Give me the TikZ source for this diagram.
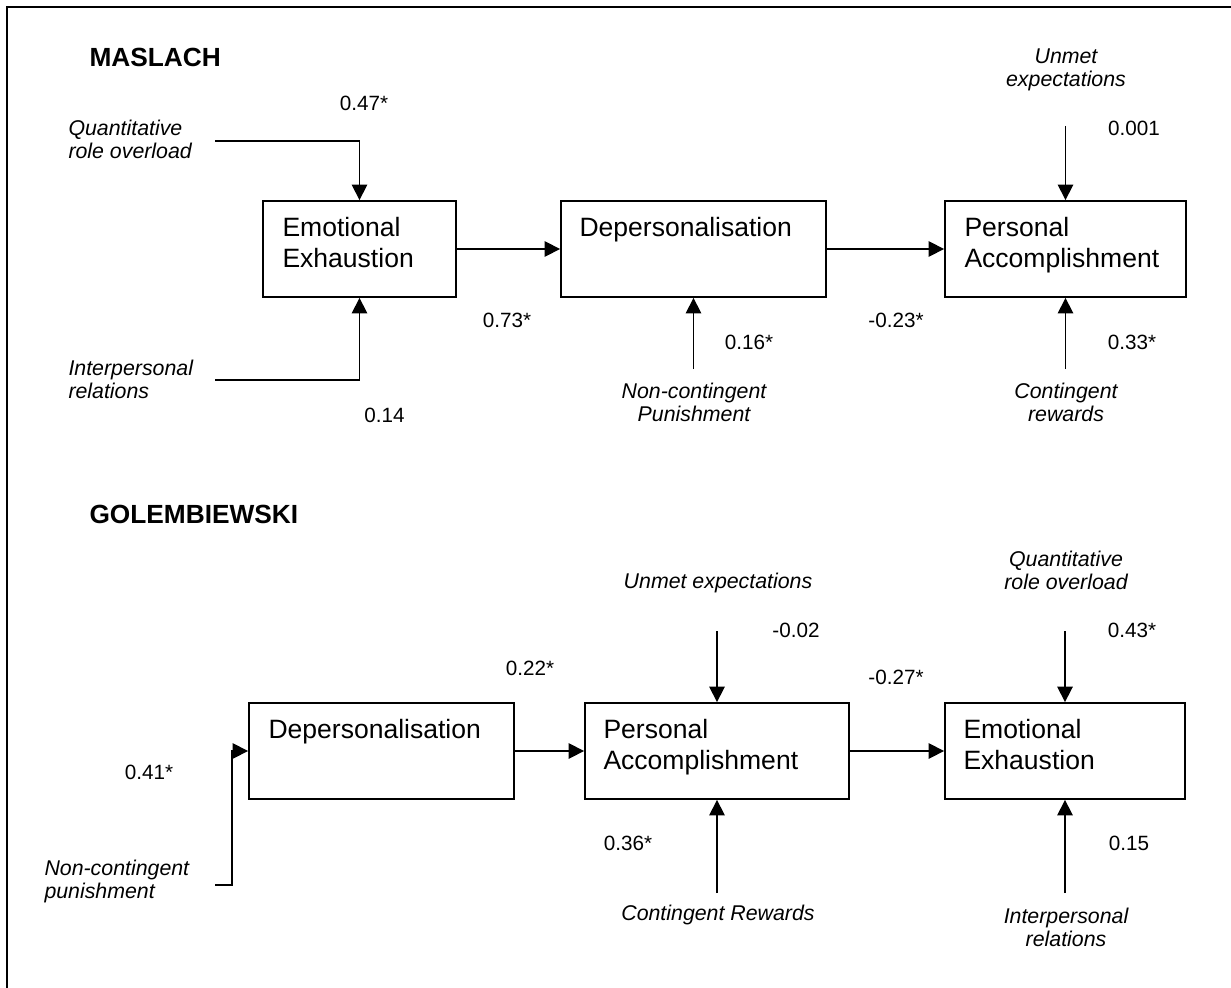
\documentclass[tikz,border=0pt]{standalone}
\usepackage{fontspec}
\setmainfont{Liberation Sans}
\usetikzlibrary{arrows.meta}

\tikzset{every picture/.style={line width=0.75pt}}
\tikzset{
  mbox/.style={draw, line width=1.4pt, inner sep=0pt, minimum height=72pt},
  boxtext/.style={anchor=north west, inner sep=0pt, align=left, font=\fontsize{19.9}{23.25}\selectfont},
  cause/.style={inner sep=0pt, font=\fontsize{16}{17.25}\selectfont\itshape},
  coef/.style={inner sep=0pt, font=\fontsize{15.5}{18}\selectfont},
  heading/.style={anchor=base west, inner sep=0pt, font=\fontsize{19.7}{23}\selectfont\bfseries},
  arr/.style={-{Triangle[length=11.5pt,width=11.5pt]}, line width=1.2pt},
}

\begin{document}
\begin{tikzpicture}[x=0.75pt,y=0.75pt,yscale=-1,xscale=1]
    \useasboundingbox (0,0) rectangle (1231,988);

    % frame
    \draw [line width=2.2pt] (1231,7) -- (7,7) -- (7,988);

    % headings
    \node [heading] (hmas) at (89,67) {MASLACH};
    \node [heading] (hgol) at (89,523) {GOLEMBIEWSKI};

    % ---- Maslach model
    \node [mbox, minimum width=144.75pt] (ee1) at (359.5,249) {};
    \node [mbox, minimum width=198.75pt] (dep1) at (693.5,249) {};
    \node [mbox, minimum width=180.75pt] (pa1) at (1065.5,249) {};
    \node [boxtext] (ee1t) at (282,217) {Emotional\\Exhaustion};
    \node [boxtext] (dep1t) at (579,217) {Depersonalisation};
    \node [boxtext] (pa1t) at (964,217) {Personal\\Accomplishment};

    \node [cause, anchor=north west, align=left] (q1) at (68,120) {Quantitative\\role overload};
    \node [cause, anchor=north west, align=left] (i1) at (68,360) {Interpersonal\\relations};
    \node [cause, anchor=north, align=center] (ue1) at (1066,48) {Unmet\\expectations};
    \node [cause, anchor=north, align=center] (nc1) at (694,383) {Non-contingent\\Punishment};
    \node [cause, anchor=north, align=center] (cr1) at (1066,383) {Contingent\\rewards};

    \coordinate (q1s) at (215,141);
    \coordinate (i1s) at (215,380);
    \coordinate (ue1s) at (1065.5,126);
    \coordinate (nc1s) at (693.5,369);
    \coordinate (cr1s) at (1065.5,369);

    \draw [arr] (ee1) -- (dep1);
    \draw [arr] (dep1) -- (pa1);
    \draw [arr] (q1s) -| (ee1.north);
    \draw [arr] (i1s) -| (ee1.south);
    \draw [arr] (ue1s) -- (pa1.north);
    \draw [arr] (nc1s) -- (dep1.south);
    \draw [arr] (cr1s) -- (pa1.south);

    \node [coef] (c047) at (364,103) {0.47*};
    \node [coef] (c014) at (384.5,415) {0.14};
    \node [coef] (c073) at (507,320) {0.73*};
    \node [coef] (c016) at (749,342) {0.16*};
    \node [coef] (c023) at (896,320) {-0.23*};
    \node [coef] (c033) at (1132,342) {0.33*};
    \node [coef] (c0001) at (1134,128) {0.001};

    % ---- Golembiewski model
    \node [mbox, minimum width=198.75pt] (dep2) at (381.5,751) {};
    \node [mbox, minimum width=198pt] (pa2) at (717,751) {};
    \node [mbox, minimum width=180pt] (ee2) at (1065,751) {};
    \node [boxtext] (dep2t) at (268,719) {Depersonalisation};
    \node [boxtext] (pa2t) at (603,719) {Personal\\Accomplishment};
    \node [boxtext] (ee2t) at (963,719) {Emotional\\Exhaustion};

    \node [cause, anchor=north west, align=left] (nc2) at (44,860) {Non-contingent\\punishment};
    \node [cause, anchor=north] (ue2) at (718,573) {Unmet expectations};
    \node [cause, anchor=north] (cr2) at (718,905) {Contingent Rewards};
    \node [cause, anchor=north, align=center] (q2) at (1066,551) {Quantitative\\role overload};
    \node [cause, anchor=north, align=center] (i2) at (1066,908) {Interpersonal\\relations};

    \coordinate (nc2s) at (215,885);
    \coordinate (nc2k) at (232,885);
    \coordinate (ue2s) at (717,631);
    \coordinate (cr2s) at (717,893);
    \coordinate (q2s) at (1065,631);
    \coordinate (i2s) at (1065,893);

    \draw [arr] (dep2) -- (pa2);
    \draw [arr] (pa2) -- (ee2);
    \draw [arr] (nc2s) -- (nc2k) |- (dep2.west);
    \draw [arr] (ue2s) -- (pa2.north);
    \draw [arr] (cr2s) -- (pa2.south);
    \draw [arr] (q2s) -- (ee2.north);
    \draw [arr] (i2s) -- (ee2.south);

    \node [coef] (c022) at (530,668) {0.22*};
    \node [coef] (c041) at (149,772) {0.41*};
    \node [coef] (c002) at (796,630) {-0.02};
    \node [coef] (c036) at (628,843) {0.36*};
    \node [coef] (c027) at (896,677) {-0.27*};
    \node [coef] (c043) at (1132,630) {0.43*};
    \node [coef] (c015) at (1129,843) {0.15};

\end{tikzpicture}
\end{document}
